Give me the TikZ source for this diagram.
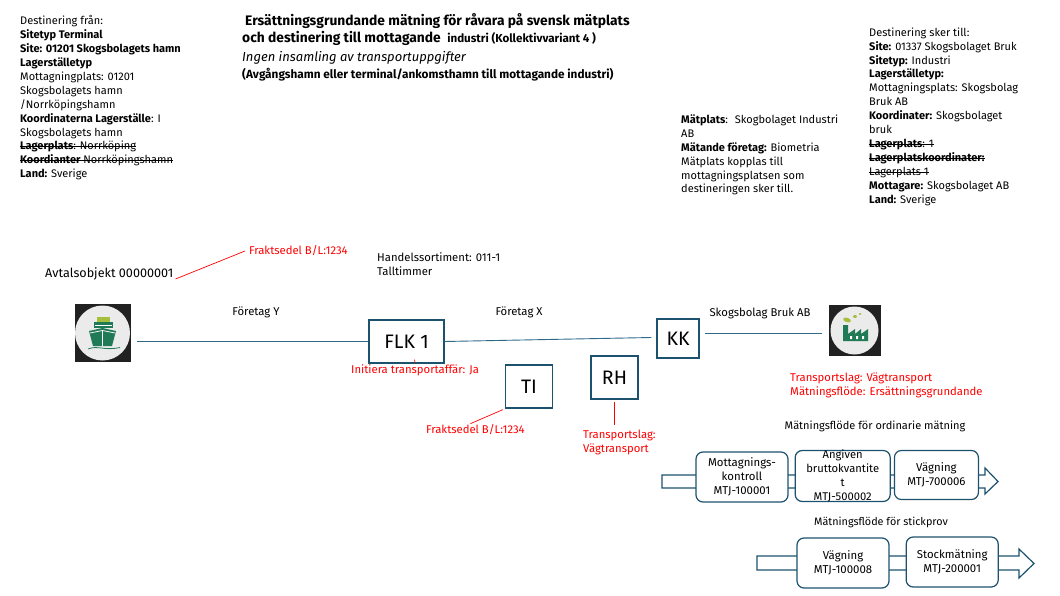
\documentclass[tikz,border=0pt]{standalone}
\usepackage{fontspec}
\setmainfont{Fira Sans}
\usetikzlibrary{positioning,calc}
\definecolor{teal}{HTML}{1C526E}
\definecolor{tline}{HTML}{2F6A8A}
\definecolor{shipg}{HTML}{1F7A55}
\definecolor{limeg}{HTML}{A5BE3C}
\newcommand{\fs}[2]{\fontsize{#1}{#2}\selectfont}
\newsavebox{\strkbox}
\newcommand{\strk}[1]{\sbox{\strkbox}{#1}\rlap{\usebox{\strkbox}}\rule[.28em]{\wd\strkbox}{.5pt}}
\begin{document}
\begin{tikzpicture}[x=1pt,y=-1pt,
      txt/.style={inner sep=0pt,align=left,font=\fs{11.3}{14}},
      info/.style={txt,anchor=north west,font=\fs{11}{13.9}},
      lbl/.style={txt,anchor=west},
      note/.style={lbl,text=red},
      stop/.style={draw=teal,line width=1.3pt,fill=white,inner sep=0pt,font=\fs{19.5}{22}},
      flow/.style={draw=teal,line width=1.2pt,fill=white,rounded corners=7pt,inner sep=0pt,
                   align=center,font=\fs{11.4}{14}},
      leg/.style={line width=.9pt,draw=tline},
      band/.style={draw=teal,line width=1.2pt,fill=white},
      redl/.style={draw=red,line width=.7pt},
      icon/.style={fill=black!87,inner sep=0pt}]
    \useasboundingbox (0,0) rectangle (1060,596);
    % texts on top
    \node[info] (from) at (20,15.5) {Destinering från:\\\textbf{Sitetyp Terminal}\\\textbf{Site: 01201 Skogsbolagets hamn}\\\textbf{Lagerställetyp}\\Mottagningplats: 01201\\Skogsbolagets hamn\\/Norrköpingshamn\\\textbf{Koordinaterna Lagerställe}: I\\Skogsbolagets hamn\\\strk{\textbf{Lagerplats}: Norrköping}\\\strk{\textbf{Koordianter} Norrköpingshamn}\\\textbf{Land:} Sverige};
    \node[info,font=\fs{13.8}{17}\bfseries] (title) at (242,13) {\hspace*{3pt}Ersättningsgrundande mätning för råvara på svensk mätplats\\och destinering till mottagande \ {\fs{11.6}{17}industri (Kollektivvariant 4 )}};
    \node[info,font=\fs{13}{16}\itshape] (nodata) at (242,51) {Ingen insamling av transportuppgifter};
    \node[info,font=\fs{11.8}{14}\bfseries] (route) at (242,68) {(Avgångshamn eller terminal/ankomsthamn till mottagande industri)};
    \node[info] (matplats) at (681,114.5) {\textbf{Mätplats}: \ Skogbolaget Industri\\AB\\\textbf{Mätande företag:} Biometria\\Mätplats kopplas till\\mottagningsplatsen som\\destineringen sker till.};
    \node[info] (dest) at (869,27.5) {Destinering sker till:\\\textbf{Site:} 01337 Skogsbolaget Bruk\\\textbf{Sitetyp:} Industri\\\textbf{Lagerställetyp:}\\Mottagningsplats: Skogsbolag\\Bruk AB\\\textbf{Koordinater:} Skogsbolaget\\bruk\\\strk{\textbf{Lagerplats}: 1}\\\strk{\textbf{Lagerplatskoordinater:}}\\\strk{Lagerplats 1}\\\textbf{Mottagare:} Skogsbolaget AB\\\textbf{Land:} Sverige};
    % middle row
    \node[lbl,font=\fs{12.6}{14}] (avtal) at (45,274) {Avtalsobjekt 00000001};
    \node[note] (frakta) at (249,251) {Fraktsedel B/L:1234};
    \node[lbl] (sort) at (377,264.5) {Handelssortiment: 011-1\\Talltimmer};
    \node[txt] (ftgy) at (256,312) {Företag Y};
    \node[txt] (ftgx) at (519,312) {Företag X};
    \node[txt] (ftgb) at (760,313) {Skogsbolag Bruk AB};
    \node[icon,minimum width=56pt,minimum height=58pt] (ship) at (102.5,333) {};
    \node[icon,minimum width=52pt,minimum height=51pt] (plant) at (854.5,330.5) {};
    \node[stop,minimum width=75pt,minimum height=43pt] (flk) at (406.5,341.5) {FLK 1};
    \node[stop,minimum width=42pt,minimum height=39pt] (kk) at (678,338.5) {KK};
    \node[stop,minimum width=47pt,minimum height=43pt] (ti) at (529,386.5) {TI};
    \node[stop,minimum width=47pt,minimum height=43pt] (rh) at (614.5,377.5) {RH};
    \draw[leg] ([xshift=6pt]ship.east |- flk.west) -- (flk.west);
    \draw[leg] (flk.east) -- ([xshift=-5pt,yshift=1pt]kk.west);
    \draw[leg] ([xshift=5pt,yshift=5.5pt]kk.east) -- ([xshift=-6pt,yshift=-2.5pt]plant.west);
    % ship icon
    \fill[black!8] (ship.center) circle (27.5);
    \fill[limeg] (97,317) rectangle (110,322);
    \fill[shipg] (94,322) rectangle (113,328);
    \fill[white] (95,325) rectangle (112,326);
    \fill[shipg] (89,331) -- (102.5,328) -- (116,331) -- (112,346) -- (93,346) -- cycle;
    \draw[white,line width=.7pt] (90,333) -- (102.5,330.5) -- (115,333) (102.5,330.5) -- (102.5,346);
    \draw[shipg,line width=.8pt] (88,349) .. controls (98,345) and (104,351) .. (120,347.5);
    % plant icon
    \fill[black!8] (plant.center) circle (24);
    \fill[shipg] (843,325) -- (848,325) -- (848,334) -- (855,329) -- (855,334) -- (861,329) -- (861,334) -- (868,329) -- (868,341) -- (843,341) -- cycle;
    \fill[white] (850,336) rectangle (852,339) (856,336) rectangle (858,339) (862,336) rectangle (864,339);
    \fill[limeg,rotate around={-20:(847,320)}] (847,320) ellipse (4 and 2.2);
    \fill[limeg] (855,316.5) ellipse (2 and 1.5) (860,314) ellipse (1.5 and 1);
    % red notes
    \node[note] (init) at (351,370) {Initiera transportaffär: Ja};
    \node[note] (fraktb) at (426,430) {Fraktsedel B/L:1234};
    \node[note] (lag) at (583,442) {Transportslag:\\Vägtransport};
    \node[note] (lagb) at (790,385.5) {Transportslag: Vägtransport\\Mätningsflöde: Ersättningsgrundande};
    \draw[redl] ([xshift=2pt,yshift=-5pt]avtal.east) -- ([xshift=-4pt]frakta.west);
    \draw[redl] ([xshift=-2pt,yshift=-1pt]ti.south west) -- ([xshift=-5pt,yshift=1pt]fraktb.north);
    \draw[redl] ([yshift=-2pt]rh.south) -- ([yshift=4pt]rh.south |- lag.north);
    \draw[redl] ([yshift=1pt]init.north) -- ([xshift=8pt,yshift=4pt]flk.south);
    % flows
    \node[txt,font=\fs{11}{14}] (ordin) at (875,426) {Mätningsflöde för ordinarie mätning};
    \node[txt,font=\fs{10.8}{14}] (stick) at (881,522) {Mätningsflöde för stickprov};
    \draw[band] (662,475) -- (985,475) -- (985,468) -- (998,481.5) -- (985,494) -- (985,488) -- (662,488) -- cycle;
    \draw[band] (757,556) -- (1019,556) -- (1019,549) -- (1034,563.5) -- (1019,578) -- (1019,570) -- (757,570) -- cycle;
    \node[flow,minimum width=92pt,minimum height=50pt] (mott) at (742,477) {Mottagnings-\\kontroll\\MTJ-100001};
    \node[flow,minimum width=95pt,minimum height=51pt,right=6pt of mott,yshift=1pt] (ang) {\rule{0pt}{1pt}};
    \node[txt,align=center,font=\fs{11.2}{14}] (angt) at (ang.center) {Angiven\\bruttokvantite\\t\\MTJ-500002};
    \node[flow,minimum width=84pt,minimum height=49pt,right=3pt of ang,yshift=1pt] (vag) {Vägning\\MTJ-700006};
    \node[flow,minimum width=92pt,minimum height=50pt] (vagb) at (843,563) {Vägning\\MTJ-100008};
    \node[flow,minimum width=92pt,minimum height=50pt,right=16pt of vagb,yshift=1pt] (stock) {Stockmätning\\MTJ-200001};
  \end{tikzpicture}
\end{document}
